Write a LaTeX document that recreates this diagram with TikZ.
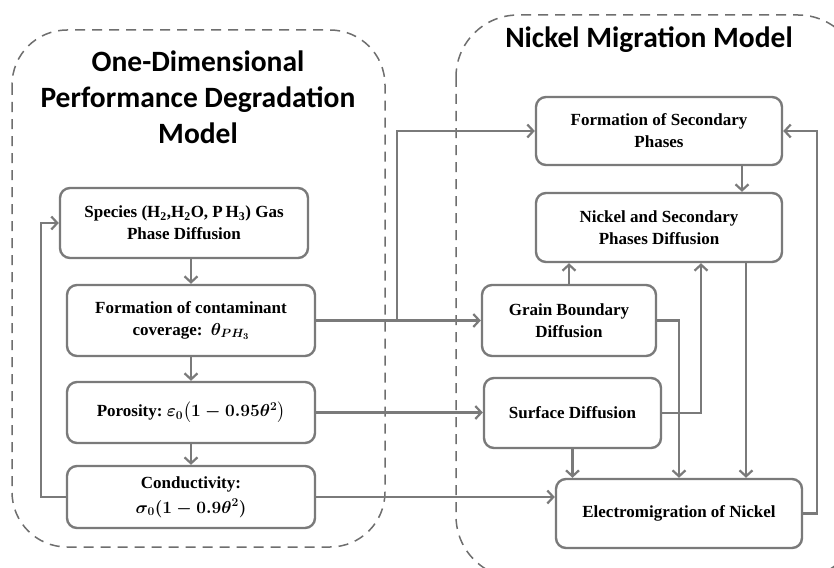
\documentclass[tikz,border=0pt]{standalone}
\usepackage{fontspec}
\usepackage{amsmath}
\usepackage{bm}
\setmainfont{Liberation Serif}
\newfontfamily\titlefont{Carlito}
\usetikzlibrary{arrows.meta,calc}
\definecolor{linegray}{HTML}{7A7A7A}
\definecolor{dashgray}{HTML}{6E6E6E}
\newcommand{\bigmath}[1]{{\fontsize{18.5}{22}\selectfont\boldmath$#1$}}
\tikzset{
  box/.style={draw=linegray, line width=2.4pt, rounded corners=10pt, fill=white,
    align=center, inner sep=0pt, font=\fontsize{17}{22}\selectfont\bfseries},
  conn/.style={draw=linegray, line width=2.4pt, -{Straight Barb[length=6pt,width=13pt,line width=2.2pt]}},
  region/.style={draw=dashgray, line width=1.5pt, dash pattern=on 10pt off 7pt, rounded corners=55pt},
  title/.style={align=center, font=\fontsize{29.5}{36}\selectfont\titlefont\bfseries}
}
\begin{document}
\begin{tikzpicture}[x=1pt,y=-1pt]
\clip (0,0) rectangle (834,567);
\fill[white] (0,0) rectangle (834,567);
% regions
\draw[region] (12,30) rectangle (385,547);
\draw[region, rounded corners=62pt] (456,15) rectangle (860,578);
\node[title] (t1) at (198,97) {One-Dimensional\\Performance Degradation\\Model};
\node[title] (t2) at (649,40) {Nickel Migration Model};
% left boxes
\node[box, minimum width=248pt, minimum height=70pt] (b1) at (184,223) {Species (H\textsubscript{2},H\textsubscript{2}O,\ P\,H\textsubscript{3}) Gas\\Phase Diffusion};
\node[box, minimum width=248pt, minimum height=71pt] (b2) at (191,320.5) {Formation of contaminant\\coverage:\ \ \bigmath{\bm{\theta}_{\bm{PH_3}}}};
\node[box, minimum width=248pt, minimum height=61pt] (b3) at (191,412.5) {Porosity:\ \bigmath{\bm{\varepsilon}_0\bigl(1-0.95\bm{\theta}^2\bigr)}};
\node[box, minimum width=248pt, minimum height=62pt, font=\fontsize{17}{25}\selectfont\bfseries] (b4) at (191,497) {Conductivity:\\\bigmath{\bm{\sigma}_0(1-0.9\bm{\theta}^2)}};
% right boxes
\node[box, minimum width=246pt, minimum height=68pt] (r1) at (659,131) {Formation of Secondary\\Phases};
\node[box, minimum width=246pt, minimum height=69pt] (r2) at (659,227.5) {Nickel and Secondary\\Phases Diffusion};
\node[box, minimum width=174pt, minimum height=71pt] (r3) at (569,320.5) {Grain Boundary\\Diffusion};
\node[box, minimum width=177pt, minimum height=70pt] (r4) at (572.5,413) {Surface Diffusion};
\node[box, minimum width=246pt, minimum height=69pt] (r5) at (679,513.5) {Electromigration of Nickel};
% coordinates
\coordinate (j) at (397,320.5);
\coordinate (x1) at (742,0);
\coordinate (x2) at (701,0);
\coordinate (x3) at (746,0);
% left chain
\draw[conn] (b1.south -| b2.north) -- (b2.north);
\draw[conn] (b2) -- (b3);
\draw[conn] (b3) -- (b4);
\draw[conn] (b4.west) -- ++(-25,0) |- (b1.west);
% left to right
\draw[conn] (b2.east) -- (r3.west);
\draw[conn] (j) |- (r1.west);
\draw[conn] (b3.east) -- (b3.east -| r4.west);
\draw[conn] (b4.east) -- (b4.east -| r5.west);
% right internal
\draw[conn] (r1.south -| x1) -- (r2.north -| x1);
\draw[conn] (r3.north) -- (r2.south -| r3.north);
\draw[conn] (r4.east) -| (r2.south -| x2);
\draw[conn] (r3.east) -| (r5.north);
\draw[conn] (r2.south -| x3) -- (r5.north -| x3);
\draw[conn] (r4.south) -- (r5.north -| r4.south);
\draw[conn] (r5.east) -- ++(14,0) |- (r1.east);
\end{tikzpicture}
\end{document}
